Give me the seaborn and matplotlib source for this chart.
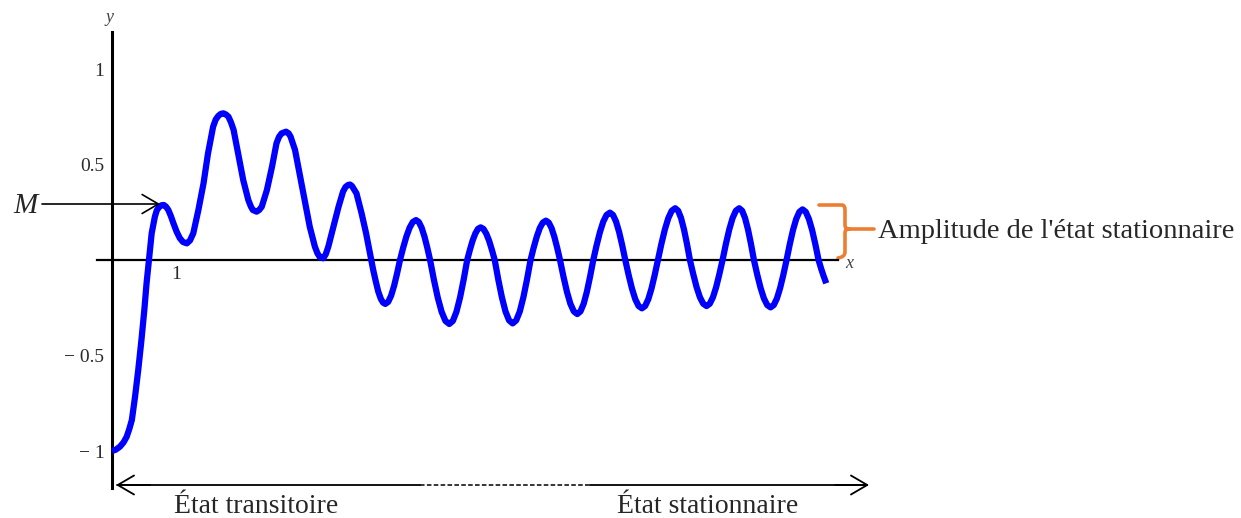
import numpy as np
import pandas as pd
import matplotlib
matplotlib.use("Agg")
import matplotlib.pyplot as plt
from matplotlib.path import Path
from matplotlib.patches import PathPatch
import seaborn as sns

# ========== DATA ==========
# transient part
t_trans = [0.0, 0.06, 0.125, 0.18, 0.23, 0.27, 0.31, 0.36, 0.41, 0.46,
           0.505, 0.54, 0.578, 0.62, 0.67, 0.70, 0.74, 0.775, 0.81, 0.845,
           0.88, 0.92, 0.96, 1.01, 1.06, 1.11, 1.17, 1.22, 1.27, 1.35,
           1.43, 1.50, 1.58, 1.62, 1.66, 1.70, 1.74, 1.78, 1.82, 1.86,
           1.90, 1.97, 2.05, 2.13, 2.17, 2.20, 2.26, 2.30, 2.34, 2.42,
           2.50, 2.57, 2.61, 2.65, 2.72, 2.76, 2.79, 2.86, 2.94, 3.02,
           3.09, 3.17, 3.21, 3.25, 3.30, 3.34, 3.38, 3.46, 3.54, 3.61,
           3.65, 3.69, 3.72, 3.75, 3.82, 3.90, 3.97, 4.03, 4.08, 4.12,
           4.16, 4.20, 4.235]
y_trans = [-1.0, -0.993, -0.977, -0.955, -0.925, -0.885, -0.838, -0.716, -0.576, -0.419,
           -0.262, -0.122, 0.0, 0.14, 0.227, 0.26, 0.279, 0.287, 0.288, 0.279,
           0.262, 0.23, 0.192, 0.148, 0.114, 0.094, 0.087, 0.103, 0.14, 0.262,
           0.401, 0.558, 0.698, 0.735, 0.754, 0.765, 0.768, 0.762, 0.75, 0.72,
           0.681, 0.558, 0.419, 0.314, 0.28, 0.262, 0.253, 0.262, 0.279, 0.366,
           0.488, 0.611, 0.645, 0.663, 0.672, 0.663, 0.646, 0.576, 0.436, 0.297,
           0.174, 0.07, 0.035, 0.014, 0.009, 0.03, 0.07, 0.174, 0.279, 0.358,
           0.383, 0.393, 0.395, 0.387, 0.349, 0.244, 0.14, 0.035, -0.05, -0.11,
           -0.165, -0.203, -0.223]

# steady-state part
t_stat = [4.27, 4.316, 4.362, 4.408, 4.454, 4.50, 4.55, 4.60, 4.65, 4.70,
          4.75, 4.794, 4.838, 4.882, 4.926, 4.97, 5.03, 5.09, 5.15, 5.21,
          5.27, 5.326, 5.382, 5.438, 5.494, 5.55, 5.592, 5.634, 5.676, 5.718,
          5.76, 5.804, 5.848, 5.892, 5.936, 5.98, 6.036, 6.092, 6.148, 6.204,
          6.26, 6.316, 6.372, 6.428, 6.484, 6.54, 6.588, 6.636, 6.684, 6.732,
          6.78, 6.824, 6.868, 6.912, 6.956, 7.00, 7.054, 7.108, 7.162, 7.216,
          7.27, 7.32, 7.37, 7.42, 7.47, 7.52, 7.572, 7.624, 7.676, 7.728,
          7.78, 7.828, 7.876, 7.924, 7.972, 8.02, 8.072, 8.124, 8.176, 8.228,
          8.28, 8.33, 8.38, 8.43, 8.48, 8.53, 8.584, 8.638, 8.692, 8.746,
          8.80, 8.846, 8.892, 8.938, 8.984, 9.03, 9.082, 9.134, 9.186, 9.238,
          9.29, 9.34, 9.39, 9.44, 9.49, 9.54, 9.592, 9.644, 9.696, 9.748,
          9.80, 9.846, 9.892, 9.938, 9.984, 10.03, 10.082, 10.134, 10.186, 10.238,
          10.29, 10.34, 10.39, 10.44, 10.49, 10.54, 10.59, 10.64, 10.69, 10.74,
          10.79, 10.84, 10.89, 10.94, 10.99, 11.04, 11.08, 11.12, 11.16]
y_stat = [-0.23, -0.219, -0.186, -0.135, -0.071, 0.0, 0.065, 0.123, 0.169, 0.199,
          0.209, 0.199, 0.169, 0.123, 0.065, 0.0, -0.104, -0.197, -0.271, -0.319,
          -0.335, -0.319, -0.271, -0.197, -0.104, 0.0, 0.053, 0.101, 0.138, 0.163,
          0.171, 0.163, 0.138, 0.101, 0.053, 0.0, -0.103, -0.195, -0.269, -0.316,
          -0.332, -0.316, -0.269, -0.195, -0.103, 0.0, 0.064, 0.121, 0.167, 0.196,
          0.206, 0.196, 0.167, 0.121, 0.064, 0.0, -0.087, -0.166, -0.229, -0.269,
          -0.283, -0.269, -0.229, -0.166, -0.087, 0.0, 0.077, 0.146, 0.201, 0.236,
          0.248, 0.236, 0.201, 0.146, 0.077, 0.0, -0.078, -0.149, -0.205, -0.241,
          -0.253, -0.241, -0.205, -0.149, -0.078, 0.0, 0.084, 0.159, 0.219, 0.258,
          0.271, 0.258, 0.219, 0.159, 0.084, 0.0, -0.074, -0.142, -0.195, -0.229,
          -0.241, -0.229, -0.195, -0.142, -0.074, 0.0, 0.084, 0.159, 0.219, 0.258,
          0.271, 0.258, 0.219, 0.159, 0.084, 0.0, -0.077, -0.146, -0.201, -0.236,
          -0.248, -0.236, -0.201, -0.146, -0.077, 0.0, 0.082, 0.156, 0.214, 0.252,
          0.265, 0.252, 0.214, 0.156, 0.082, 0.0, -0.045, -0.085, -0.122]

y_ticks = [-1, -0.5, 0.5, 1]
y_tick_labels = ["\u2212 1", "\u2212 0.5", "0.5", "1"]
x_ticks = [1]
x_tick_labels = ["1"]

label_M = "M"
label_amp = "Amplitude de l'état stationnaire"
label_trans = "État transitoire"
label_stat = "État stationnaire"

df = pd.DataFrame({"t": t_trans + t_stat, "y": y_trans + y_stat})

# ========== FIGURE ==========
sns.set_style("white")
plt.rcParams['font.family'] = ['Liberation Serif', 'DejaVu Serif']

W, H = 1241, 518
fig = plt.figure(figsize=(W / 100, H / 100), dpi=100)
ax = fig.add_axes([0, 0, 1, 1])

# 1 unit x = 64 px, 1 unit y = 191 px, origin at pixel (112, 260)
X0, Y0, SX, SY = 112, 260, 64.0, 191.0
def px(x, y):
    return ((x - X0) / SX, (Y0 - y) / SY)

ax.set_xlim(px(0, 0)[0], px(W, 0)[0])
ax.set_ylim(px(0, H)[1], px(0, 0)[1])

sns.lineplot(data=df, x="t", y="y", color="#0000FF", linewidth=4.5,
             estimator=None, sort=False, ax=ax, zorder=3)
for ln in ax.lines:
    ln.set_solid_joinstyle("round")
    ln.set_solid_capstyle("butt")

# axes through origin
for s in ["top", "right"]:
    ax.spines[s].set_visible(False)
ax.spines["left"].set_position(("data", 0))
ax.spines["bottom"].set_position(("data", 0))
ax.spines["left"].set_bounds(px(0, 488)[1], px(0, 32)[1])
ax.spines["bottom"].set_bounds(px(97, 0)[0], px(838, 0)[0])
ax.spines["left"].set_linewidth(2.2)
ax.spines["bottom"].set_linewidth(1.6)
ax.spines["left"].set_color("black")
ax.spines["bottom"].set_color("black")
ax.spines["left"].set_zorder(2)
ax.spines["bottom"].set_zorder(2)

ax.set_xticks(x_ticks)
ax.set_xticklabels(x_tick_labels)
ax.set_yticks(y_ticks)
ax.set_yticklabels(y_tick_labels)
ax.tick_params(axis="x", direction="in", length=6, width=1.4, pad=4,
               labelsize=14, labelcolor="#2b2b2b")
ax.tick_params(axis="y", direction="inout", length=9, width=1.4, pad=1,
               labelsize=14, labelcolor="#2b2b2b")
ax.set_xlabel("")
ax.set_ylabel("")

ax.text(*px(110, 17), "y", style="italic", fontsize=13, color="#444444",
        ha="center", va="center")
ax.text(*px(849, 263), "x", style="italic", fontsize=13, color="#444444",
        ha="center", va="center")

# M arrow
ax.text(*px(25, 213), label_M, style="italic", fontsize=21, ha="center", va="baseline")
ax.annotate("", xy=px(160, 204), xytext=px(42, 204),
            arrowprops=dict(arrowstyle="->,head_length=0.65,head_width=0.38",
                            color="black", lw=1.2, mutation_scale=18,
                            shrinkA=0, shrinkB=0))

# orange brace
verts = [px(819, 205), px(842, 205), px(845, 205), px(845, 210),
         px(845, 225), px(845, 229), px(849, 229),
         px(874, 229),
         px(849, 229), px(845, 229), px(845, 233),
         px(845, 252), px(845, 257), px(838, 258)]
codes = [Path.MOVETO, Path.LINETO, Path.CURVE3, Path.CURVE3,
         Path.LINETO, Path.CURVE3, Path.CURVE3,
         Path.LINETO,
         Path.MOVETO, Path.CURVE3, Path.CURVE3,
         Path.LINETO, Path.CURVE3, Path.CURVE3]
ax.add_patch(PathPatch(Path(verts, codes), facecolor="none", edgecolor="#ED7D31",
                       lw=2.6, capstyle="round", joinstyle="round"))
ax.text(*px(878, 238), label_amp, fontsize=20.5, ha="left", va="baseline")

# bottom double arrow
yb = 485
ax.plot(*zip(px(117, yb), px(420, yb)), color="black", lw=1.3)
ax.plot(*zip(px(420, yb), px(590, yb)), color="black", lw=1.1, ls=(0, (3, 1.5)))
ax.plot(*zip(px(590, yb), px(867, yb)), color="black", lw=1.3)
ax.annotate("", xy=px(116, yb), xytext=px(150, yb),
            arrowprops=dict(arrowstyle="->,head_length=0.65,head_width=0.38",
                            color="black", lw=1.3, mutation_scale=18, shrinkA=0, shrinkB=0))
ax.annotate("", xy=px(869, yb), xytext=px(835, yb),
            arrowprops=dict(arrowstyle="->,head_length=0.65,head_width=0.38",
                            color="black", lw=1.3, mutation_scale=18, shrinkA=0, shrinkB=0))
ax.text(*px(256, 513), label_trans, fontsize=20, ha="center", va="baseline")
ax.text(*px(708, 513), label_stat, fontsize=20, ha="center", va="baseline")

fig.savefig("out.png", dpi=100)
